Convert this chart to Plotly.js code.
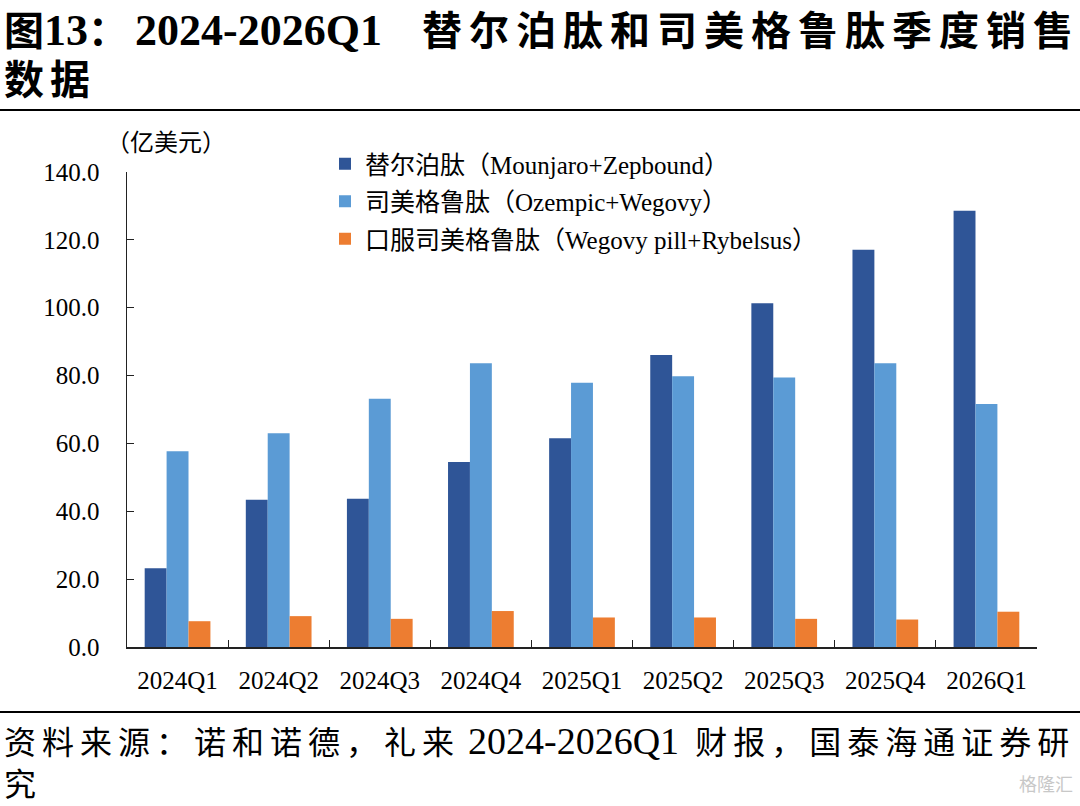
<!DOCTYPE html>
<html>
<head>
<meta charset="utf-8">
<script src="https://cdn.plot.ly/plotly-3.0.1.min.js"></script>
<style>
    body { margin: 0; background: #fff; }
    #chart { width: 1080px; height: 806px; }
</style>
</head>
<body>
<div id="chart"></div>
<script>
const quarters = ["2024Q1", "2024Q2", "2024Q3", "2024Q4", "2025Q1", "2025Q2", "2025Q3", "2025Q4", "2026Q1"];
const tirzepatide = [23.2, 43.4, 43.7, 54.5, 61.5, 86.1, 101.3, 117.1, 128.6];
const semaglutide = [57.7, 63.0, 73.2, 83.6, 77.9, 79.8, 79.4, 83.6, 71.6];
const oral_semaglutide = [7.6, 9.1, 8.3, 10.6, 8.7, 8.7, 8.3, 8.1, 10.4];
const series_names = [
    "替尔泊肽（Mounjaro+Zepbound）",
    "司美格鲁肽（Ozempic+Wegovy）",
    "口服司美格鲁肽（Wegovy pill+Rybelsus）"
];
const y_ticks = [0, 20, 40, 60, 80, 100, 120, 140];

class quarterly_sales {

    constructor(view) {
        this.chart_view = view;
        // plot area in pixels, used to place the texts around it
        this.plot = { left: 127, right: 1037, top: 172, bottom: 647 };
    }

    px(x) { return (x - this.plot.left) / (this.plot.right - this.plot.left); }
    py(y) { return (this.plot.bottom - y) / (this.plot.bottom - this.plot.top); }

    build_traces() {
        const colors = ["#2F5597", "#5B9BD5", "#ED7D31"];
        const values = [tirzepatide, semaglutide, oral_semaglutide];
        return values.map((v, i) => ({
            x: quarters,
            y: v,
            type: "bar",
            name: series_names[i],
            legendgroup: "g" + i,
            marker: { color: colors[i] },
            hoverinfo: "x+y"
        }));
    }

    note(text, x, y, size, extra) {
        return Object.assign({
            text: text, xref: "paper", yref: "paper",
            x: this.px(x), y: this.py(y),
            xanchor: "left", yanchor: "middle", showarrow: false,
            font: { size: size, color: "#000", family: "Liberation Serif, Noto Sans CJK SC" }
        }, extra || {});
    }

    rule(y) {
        return {
            type: "line", xref: "paper", yref: "paper",
            x0: this.px(0), x1: this.px(1080), y0: this.py(y), y1: this.py(y),
            line: { color: "#000", width: 2 }
        };
    }

    update_chart() {
        const font = "Liberation Serif, Noto Sans CJK SC";
        const latin = (s, size) => `<span style="font-size:${size}px">${s}</span>`;
        // the report spreads the chinese of its heading and source line across the page
        const spaced = (s, gap) => `<span style="letter-spacing:${gap}px">${s}</span>`;
        const title = `<b>图${latin("13", 44)}${spaced("：", 7)}${latin("2024-2026Q1", 44)}\u2003${spaced("替尔泊肽和司美格鲁肽季度销售", 7)}</b>`;
        const source = `${spaced("资料来源：诺和诺德，礼来", 6)} ${latin("2024-2026Q1", 38)}\u2002${spaced("财报，国泰海通证券研", 6)}`;
        const layout = {
            width: 1080, height: 806,
            margin: { l: 127, r: 43, t: 172, b: 159, pad: 0 },
            paper_bgcolor: "#fff", plot_bgcolor: "#fff",
            font: { family: font, color: "#000", size: 25 },
            barmode: "group", bargap: 0.35, bargroupgap: 0,
            showlegend: true,
            legend: {
                x: this.px(325), y: this.py(141), xanchor: "left", yanchor: "top",
                font: { size: 25, family: font }, traceorder: "grouped",
                tracegroupgap: 2, itemwidth: 30, bgcolor: "rgba(0,0,0,0)"
            },
            xaxis: {
                type: "category", showline: true, linecolor: "#222", linewidth: 1.5,
                ticks: "inside", tickson: "boundaries", ticklen: 7, tickcolor: "#222",
                showgrid: false, ticklabelstandoff: 10,
                tickfont: { size: 25, family: font }
            },
            yaxis: {
                range: [0, 140], tickvals: y_ticks,
                ticktext: y_ticks.map(v => v.toFixed(1)),
                showline: true, linecolor: "#222", linewidth: 1.5,
                ticks: "inside", ticklen: 7, tickcolor: "#222",
                showgrid: false, zeroline: false, ticklabelstandoff: 21,
                tickfont: { size: 25, family: font }
            },
            shapes: [this.rule(110), this.rule(712)],
            annotations: [
                this.note(title, 2, 30, 40),
                this.note(spaced("<b>数据</b>", 6), 2, 80, 40),
                this.note("（亿美元）", 104, 143, 24),
                this.note(source, 2, 741, 32),
                this.note("究", 2, 785, 32),
                this.note("格隆汇", 1075, 785, 18, { xanchor: "right", font: { size: 18, color: "#c8c8c8", family: font } })
            ]
        };
        const configuration = { displayModeBar: false, staticPlot: true };
        Plotly.newPlot(this.chart_view, this.build_traces(), layout, configuration);
    }
}

const chart = new quarterly_sales(document.getElementById("chart"));
chart.update_chart();
</script>
</body>
</html>
